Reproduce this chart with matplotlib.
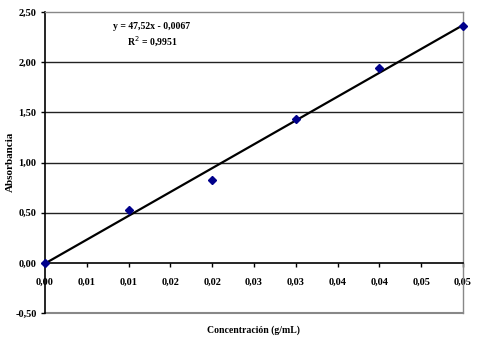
import matplotlib
matplotlib.use("Agg")
import matplotlib.pyplot as plt
import numpy as np

conc = [0.00, 0.01, 0.02, 0.03, 0.04, 0.05]
absorb = [0.00, 0.53, 0.83, 1.43, 1.94, 2.36]
slope = 47.52
intercept = -0.0067
xticks = [0.000, 0.005, 0.010, 0.015, 0.020, 0.025, 0.030, 0.035, 0.040, 0.045, 0.050]
xticklabels = ["0,00", "0,01", "0,01", "0,02", "0,02", "0,03", "0,03", "0,04", "0,04", "0,05", "0,05"]
yticks = [-0.5, 0.0, 0.5, 1.0, 1.5, 2.0, 2.5]
yticklabels = ["-0,50", "0,00", "0,50", "1,00", "1,50", "2,00", "2,50"]

plt.rcParams['font.family'] = ['Liberation Serif', 'DejaVu Serif']

fig = plt.figure(figsize=(4.78, 3.43), dpi=100)
ax = fig.add_axes([45/478, 1-313/343, 418/478, 301/343])

ax.set_xlim(0, 0.05)
ax.set_ylim(-0.5, 2.5)

for y in [0.5, 1.0, 1.5, 2.0]:
    ax.axhline(y, color='#222222', lw=1.0, zorder=1)

for s in ['top', 'right']:
    ax.spines[s].set_color('#888888')
    ax.spines[s].set_linewidth(1.0)
ax.spines['left'].set_color('black')
ax.spines['left'].set_linewidth(1.2)
ax.spines['bottom'].set_position(('data', 0))
ax.spines['bottom'].set_color('black')
ax.spines['bottom'].set_linewidth(1.2)
ax.axhline(-0.5, color='#888888', lw=1.5, clip_on=False, zorder=0)

ax.set_xticks(xticks)
ax.set_xticklabels(xticklabels, fontsize=7.5, fontweight='bold')
ax.set_yticks(yticks)
ax.set_yticklabels(yticklabels, fontsize=7.5, fontweight='bold')
ax.tick_params(axis='x', direction='out', length=3, width=1, pad=8)
ax.tick_params(axis='y', direction='out', length=3, width=1, pad=3)

xl = np.array([0.0, 0.05])
ax.plot(xl, slope*xl + intercept, color='black', lw=1.6, zorder=3)
ax.plot(conc, absorb, linestyle='none', marker='D', markersize=4.5,
        color='#00008B', zorder=4, clip_on=False)

ax.text(0.0128, 2.36, "y = 47,52x - 0,0067", ha='center', va='center',
        fontsize=7, fontweight='bold')
ax.text(0.0128, 2.20, "R$^2$ = 0,9951", ha='center', va='center',
        fontsize=7, fontweight='bold')

fig.text(10/478, 1-162/343, "Absorbancia", rotation=90, ha='center', va='center',
         fontsize=8, fontweight='bold')
fig.text(253/478, 1-330/343, "Concentración (g/mL)", ha='center', va='center',
         fontsize=7, fontweight='bold')

fig.savefig("out.png", dpi=100)
